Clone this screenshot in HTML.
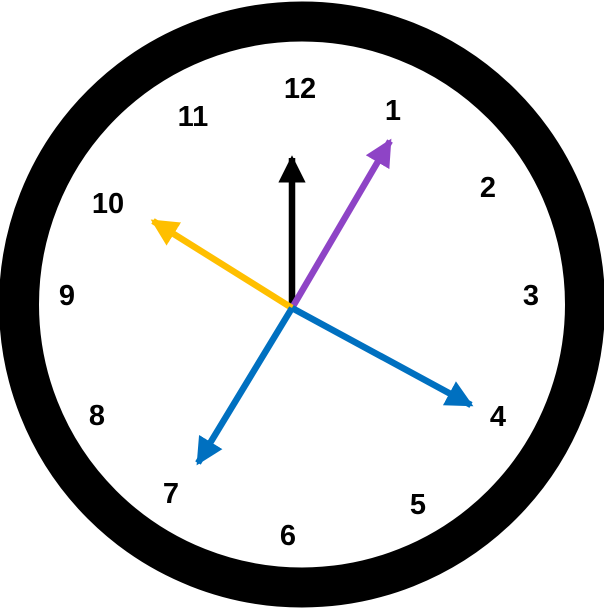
<!DOCTYPE html>
<html><head><style>html,body{margin:0;padding:0;background:#fff}svg{display:block}</style></head>
<body>
<svg width="604" height="609" viewBox="0 0 604 609" xmlns="http://www.w3.org/2000/svg">
<circle cx="302" cy="304.5" r="283" fill="#fff" stroke="#000" stroke-width="40"/>
<defs>
<marker id="a" viewBox="0 0 10 10" refX="9" refY="5" markerWidth="4.2" markerHeight="4.2" orient="auto" markerUnits="strokeWidth">
<path d="M0,0 L10,5 L0,10 z" fill="context-stroke"/></marker>
<marker id="k" viewBox="0 0 10 10" refX="9" refY="5" markerWidth="4.2" markerHeight="4.2" orient="auto" markerUnits="strokeWidth"><path d="M0,0 L10,5 L0,10 z" fill="#000"/></marker>
<marker id="p" viewBox="0 0 10 10" refX="9" refY="5" markerWidth="4.2" markerHeight="4.2" orient="auto" markerUnits="strokeWidth"><path d="M0,0 L10,5 L0,10 z" fill="#8e44c6"/></marker>
<marker id="y" viewBox="0 0 10 10" refX="9" refY="5" markerWidth="4.2" markerHeight="4.2" orient="auto" markerUnits="strokeWidth"><path d="M0,0 L10,5 L0,10 z" fill="#ffbf00"/></marker>
<marker id="b" viewBox="0 0 10 10" refX="9" refY="5" markerWidth="4.2" markerHeight="4.2" orient="auto" markerUnits="strokeWidth"><path d="M0,0 L10,5 L0,10 z" fill="#0070c0"/></marker>
</defs>
<g stroke-width="6.5" fill="none">
<line x1="292" y1="308" x2="292" y2="158" stroke="#000" marker-end="url(#k)"/>
<line x1="292" y1="308" x2="390" y2="141" stroke="#8e44c6" marker-end="url(#p)"/>
<line x1="292" y1="308" x2="153" y2="221" stroke="#ffbf00" marker-end="url(#y)"/>
<line x1="292" y1="308" x2="471" y2="405" stroke="#0070c0" marker-end="url(#b)"/>
<line x1="292" y1="308" x2="198" y2="463" stroke="#0070c0" marker-end="url(#b)"/>
</g>
<g font-family="Liberation Sans, sans-serif" font-weight="bold" font-size="29" text-anchor="middle" fill="#000">
<text x="300" y="98">12</text>
<text x="393" y="120">1</text>
<text x="488" y="197">2</text>
<text x="531" y="305">3</text>
<text x="498" y="426">4</text>
<text x="418" y="514">5</text>
<text x="288" y="545">6</text>
<text x="171" y="503">7</text>
<text x="97" y="425">8</text>
<text x="67" y="305">9</text>
<text x="108" y="213">10</text>
<text x="193" y="126">11</text>
</g>
</svg>
</body></html>
